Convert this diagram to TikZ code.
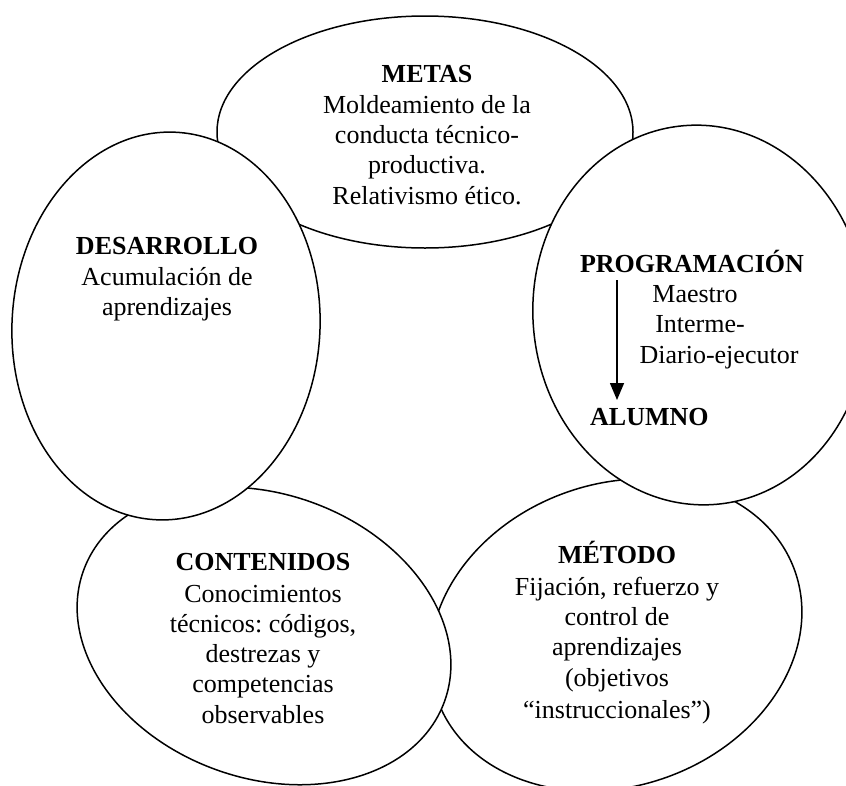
\documentclass[tikz,border=0pt]{standalone}
\usepackage{fontspec}
\setmainfont{Liberation Serif}
\usetikzlibrary{shapes.geometric,arrows.meta}
\frenchspacing
\begin{document}
\begin{tikzpicture}[x=1pt,y=1pt,
  oval/.style={draw=black, fill=white, ellipse, line width=1.5pt, inner sep=0pt, outer sep=0pt},
  txt/.style={anchor=base, inner sep=0pt, font=\fontsize{26}{30}\selectfont},
  hd/.style={anchor=base, inner sep=0pt, font=\fontsize{26}{30}\selectfont\bfseries},
  arr/.style={line width=1.5pt, -{Triangle[width=14pt,length=17pt]}}]
\clip (0,0) rectangle (846,-785);
% ellipses (back to front)
\node[oval, minimum width=416pt, minimum height=232pt] (metas) at (425,-132) {};
\node[oval, minimum width=380pt, minimum height=302pt, rotate=20] (metodo) at (616,-635) {};
\node[oval, minimum width=384pt, minimum height=284pt, rotate=-20] (contenidos) at (264,-636) {};
\node[oval, minimum width=308pt, minimum height=388pt, rotate=-3] (desarrollo) at (166,-326) {};
\node[oval, minimum width=334pt, minimum height=380pt, rotate=5] (programacion) at (700,-315) {};
% METAS
\node[hd]  (m1) at (427,-82)  {METAS};
\node[txt] (m2) at (427,-113) {Moldeamiento de la};
\node[txt] (m3) at (427,-143) {conducta técnico-};
\node[txt] (m4) at (427,-173) {productiva.};
\node[txt] (m5) at (427,-204) {Relativismo ético.};
% DESARROLLO
\node[hd]  (d1) at (167,-254) {DESARROLLO};
\node[txt] (d2) at (167,-285) {Acumulación de};
\node[txt] (d3) at (167,-315) {aprendizajes};
% PROGRAMACION
\node[hd]  (p1) at (692,-272) {PROGRAMACIÓN};
\node[txt] (p2) at (695,-302) {Maestro};
\node[txt] (p3) at (700,-332) {Interme-};
\node[txt] (p4) at (719,-363) {Diario-ejecutor};
\node[hd, anchor=base west] (p5) at (590,-425) {ALUMNO};
\coordinate (a1) at (617,-280);
\coordinate (a2) at (617,-400);
\draw[arr] (a1) -- (a2);
% CONTENIDOS
\node[hd]  (c1) at (263,-570) {CONTENIDOS};
\node[txt] (c2) at (263,-602) {Conocimientos};
\node[txt] (c3) at (263,-632) {técnicos: códigos,};
\node[txt] (c4) at (263,-662) {destrezas y};
\node[txt] (c5) at (263,-692) {competencias};
\node[txt] (c6) at (263,-723) {observables};
% METODO
\node[hd]  (e1) at (617,-563) {MÉTODO};
\node[txt] (e2) at (617,-595) {Fijación, refuerzo y};
\node[txt] (e3) at (617,-625) {control de};
\node[txt] (e4) at (617,-655) {aprendizajes};
\node[txt] (e5) at (617,-686) {(objetivos};
\node[txt] (e6) at (617,-718) {``instruccionales'')};
\end{tikzpicture}
\end{document}
